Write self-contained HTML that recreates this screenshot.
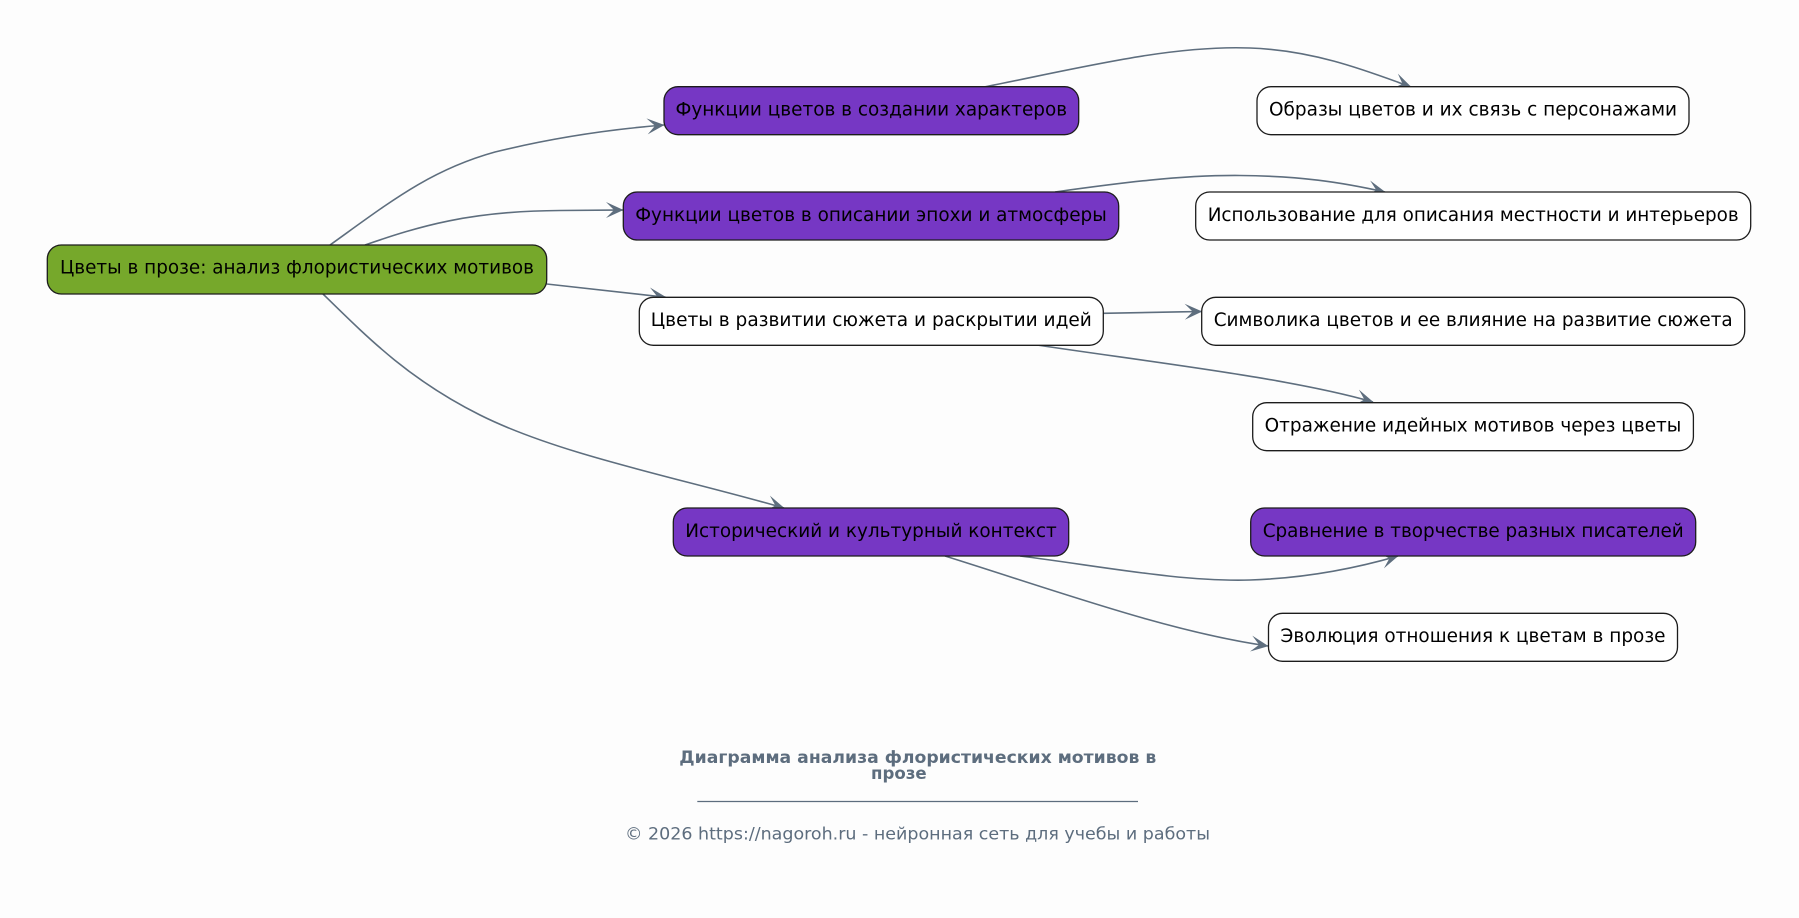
<!DOCTYPE html>
<html>
<head>
<meta charset="utf-8">
<style>
  html, body { margin: 0; padding: 0; background: #FDFDFD; }
  body { width: 1799px; height: 918px; overflow: hidden; }
  svg { display: block; }
  .n { font-family: "DejaVu Sans", "Liberation Sans", sans-serif; font-size: 18.67px; fill: #000; }
  .t { font-family: "DejaVu Sans", "Liberation Sans", sans-serif; font-size: 17px; font-weight: bold; fill: #5D6D7E; }
  .f { font-family: "DejaVu Sans", "Liberation Sans", sans-serif; font-size: 17px; fill: #5D6D7E; }
  .e { fill: none; stroke: #5E6E7E; stroke-width: 1.6; }
  .b { stroke: #1c1c1c; stroke-width: 1.3; }
</style>
</head>
<body>
<svg width="1799" height="918" viewBox="0 0 1799 918" xmlns="http://www.w3.org/2000/svg">
  <defs>
    <marker id="v" markerUnits="userSpaceOnUse" markerWidth="20" markerHeight="20" viewBox="-19 -10 20 20" refX="0" refY="0" orient="auto">
      <path d="M0.5,0 L-17,-8 L-9,0 L-17,8 Z" fill="#5E6E7E"/>
    </marker>
  </defs>
  <rect x="0" y="0" width="1799" height="918" fill="#FDFDFD"/>

  <!-- edges -->
  <path class="e" marker-end="url(#v)" d="M330,245 C390,202 430,170 495,152 C560,136 615,129 664,125"/>
  <path class="e" marker-end="url(#v)" d="M365,245 C420,226 470,211 560,210.5 C590,210.3 605,210 623,210"/>
  <path class="e" marker-end="url(#v)" d="M546.7,284 L666,297.3"/>
  <path class="e" marker-end="url(#v)" d="M323,294 C370,340 410,380 480,415 C560,455 680,478 784,508"/>
  <path class="e" marker-end="url(#v)" d="M984,87 C1080,68 1170,45 1250,48 C1310,50 1360,68 1411,87"/>
  <path class="e" marker-end="url(#v)" d="M1055,192 C1120,183 1180,175 1240,175.5 C1300,176 1340,182 1385,192"/>
  <path class="e" marker-end="url(#v)" d="M1103.3,313.3 C1140,312.5 1170,312 1201.7,311.5"/>
  <path class="e" marker-end="url(#v)" d="M1037,345 C1150,362 1290,378 1373,402"/>
  <path class="e" marker-end="url(#v)" d="M1020,556 C1100,566 1180,582 1250,580 C1310,578 1360,567 1398,556"/>
  <path class="e" marker-end="url(#v)" d="M945,556 C1060,592 1170,632 1268,646"/>

  <!-- root -->
  <rect class="b" x="47.3" y="245" width="499.4" height="49" rx="14" fill="#76A82B"/>
  <text class="n" x="297" y="273.5" text-anchor="middle" textLength="474" lengthAdjust="spacingAndGlyphs">Цветы в прозе: анализ флористических мотивов</text>

  <!-- middle column -->
  <rect class="b" x="664" y="86.7" width="414.7" height="48" rx="14" fill="#7637C4"/>
  <text class="n" x="871.3" y="115.5" text-anchor="middle" textLength="391.6" lengthAdjust="spacingAndGlyphs">Функции цветов в создании характеров</text>

  <rect class="b" x="623.3" y="192" width="495.4" height="48" rx="14" fill="#7637C4"/>
  <text class="n" x="871" y="220.8" text-anchor="middle" textLength="471.6" lengthAdjust="spacingAndGlyphs">Функции цветов в описании эпохи и атмосферы</text>

  <rect class="b" x="639.3" y="297.3" width="464" height="48" rx="14" fill="#FFFFFF"/>
  <text class="n" x="871.3" y="326.1" text-anchor="middle" textLength="441" lengthAdjust="spacingAndGlyphs">Цветы в развитии сюжета и раскрытии идей</text>

  <rect class="b" x="673.3" y="508" width="395.4" height="48" rx="14" fill="#7637C4"/>
  <text class="n" x="871" y="536.8" text-anchor="middle" textLength="371.6" lengthAdjust="spacingAndGlyphs">Исторический и культурный контекст</text>

  <!-- right column -->
  <rect class="b" x="1257" y="86.7" width="432" height="48" rx="14" fill="#FFFFFF"/>
  <text class="n" x="1473" y="115.5" text-anchor="middle" textLength="408" lengthAdjust="spacingAndGlyphs">Образы цветов и их связь с персонажами</text>

  <rect class="b" x="1195.7" y="192" width="555" height="48" rx="14" fill="#FFFFFF"/>
  <text class="n" x="1473.2" y="220.8" text-anchor="middle" textLength="531" lengthAdjust="spacingAndGlyphs">Использование для описания местности и интерьеров</text>

  <rect class="b" x="1201.7" y="297.3" width="543" height="48" rx="14" fill="#FFFFFF"/>
  <text class="n" x="1473.2" y="326.1" text-anchor="middle" textLength="519" lengthAdjust="spacingAndGlyphs">Символика цветов и ее влияние на развитие сюжета</text>

  <rect class="b" x="1252.7" y="402.7" width="440.7" height="48" rx="14" fill="#FFFFFF"/>
  <text class="n" x="1473" y="431.5" text-anchor="middle" textLength="416.7" lengthAdjust="spacingAndGlyphs">Отражение идейных мотивов через цветы</text>

  <rect class="b" x="1250.7" y="508" width="445" height="48" rx="14" fill="#7637C4"/>
  <text class="n" x="1473.2" y="536.8" text-anchor="middle" textLength="421" lengthAdjust="spacingAndGlyphs">Сравнение в творчестве разных писателей</text>

  <rect class="b" x="1268.5" y="613.3" width="409" height="48" rx="14" fill="#FFFFFF"/>
  <text class="n" x="1473" y="642.1" text-anchor="middle" textLength="385" lengthAdjust="spacingAndGlyphs">Эволюция отношения к цветам в прозе</text>

  <!-- title & footer -->
  <text class="t" x="679.3" y="763" textLength="477" lengthAdjust="spacingAndGlyphs">Диаграмма анализа флористических мотивов в</text>
  <text class="t" x="871" y="779" textLength="55.7" lengthAdjust="spacingAndGlyphs">прозе</text>
  <line x1="697.3" y1="801.5" x2="1138" y2="801.5" stroke="#5D6D7E" stroke-width="1.2"/>
  <text class="f" x="625" y="839.3" textLength="585" lengthAdjust="spacingAndGlyphs">© 2026 https://nagoroh.ru - нейронная сеть для учебы и работы</text>
</svg>
</body>
</html>
